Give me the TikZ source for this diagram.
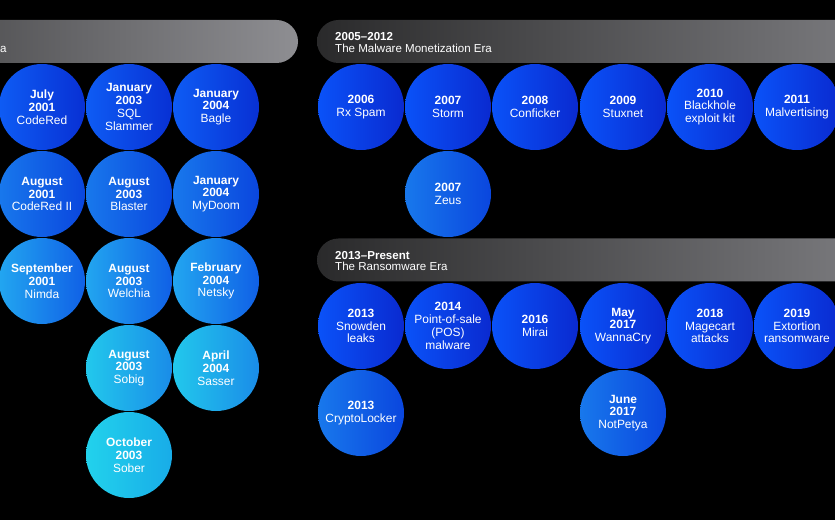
\documentclass[tikz,border=0pt]{standalone}
\usepackage{fontspec}
\setmainfont{Liberation Sans}
\usetikzlibrary{positioning}

\definecolor{bandL}{HTML}{2A2A2B}
\definecolor{bandR}{HTML}{8E8E92}
\definecolor{blueAL}{HTML}{0E5CF4}
\definecolor{blueAR}{HTML}{0830D4}
\definecolor{blueBL}{HTML}{1878EC}
\definecolor{blueBR}{HTML}{0A46DE}
\definecolor{blueCL}{HTML}{22A6F0}
\definecolor{blueCR}{HTML}{1060E6}
\definecolor{blueDL}{HTML}{22C8EC}
\definecolor{blueDR}{HTML}{1A8CE8}
\definecolor{blueEL}{HTML}{22D2EC}
\definecolor{blueER}{HTML}{18ACE8}
\definecolor{monoL}{HTML}{0A52F8}
\definecolor{monoR}{HTML}{0A2AD0}

\tikzset{font=\fontsize{12}{12.8}\selectfont}
\tikzset{
	virus/.style={circle, minimum size=86bp, inner sep=0pt, align=center, text=white},
	era/.style={rounded corners=21.5bp, minimum height=43bp, inner sep=0pt, left color=bandL, right color=bandR},
	eratext/.style={anchor=west, align=left, text=white, inner sep=0pt, font=\fontsize{11.6}{12}\selectfont},
	rowa/.style={left color=blueAL, right color=blueAR},
	rowb/.style={left color=blueBL, right color=blueBR},
	rowc/.style={left color=blueCL, right color=blueCR},
	rowd/.style={left color=blueDL, right color=blueDR},
	rowe/.style={left color=blueEL, right color=blueER},
	rowm/.style={left color=monoL, right color=monoR}
}

\begin{document}
\begin{tikzpicture}[x=1bp, y=-1bp]
	\fill[black] (0,0) rectangle (835,520);
	\clip (0,0) rectangle (835,520);

	% era banners
	\node[era, minimum width=548bp] (era1) at (24,41.5) {};
	\node[eratext, anchor=west] (era1t) at (0,49) {a};
	\node[era, minimum width=683bp] (era2) at (658.5,41.5) {};
	\node[eratext] (era2t) at (335,42.5) {\textbf{2005–2012}\\The Malware Monetization Era};
	\node[era, minimum width=683bp] (era3) at (658.5,260) {};
	\node[eratext] (era3t) at (335,261) {\textbf{2013–Present}\\The Ransomware Era};

	% worms
	\node[virus, rowa] (codered)   at (42,107)  {\textbf{July}\\\textbf{2001}\\CodeRed};
	\node[virus, rowa] (slammer)   at (129,107) {\textbf{January}\\\textbf{2003}\\SQL\\Slammer};
	\node[virus, rowa] (bagle)     at (216,107) {\textbf{January}\\\textbf{2004}\\Bagle};
	\node[virus, rowb] (coderedii) at (42,194)  {\textbf{August}\\\textbf{2001}\\CodeRed II};
	\node[virus, rowb] (blaster)   at (129,194) {\textbf{August}\\\textbf{2003}\\Blaster};
	\node[virus, rowb] (mydoom)    at (216,194) {\textbf{January}\\\textbf{2004}\\MyDoom};
	\node[virus, rowc] (nimda)     at (42,281)  {\textbf{September}\\\textbf{2001}\\Nimda};
	\node[virus, rowc] (welchia)   at (129,281) {\textbf{August}\\\textbf{2003}\\Welchia};
	\node[virus, rowc] (netsky)    at (216,281) {\textbf{February}\\\textbf{2004}\\Netsky};
	\node[virus, rowd] (sobig)     at (129,368) {\textbf{August}\\\textbf{2003}\\Sobig};
	\node[virus, rowd] (sasser)    at (216,368) {\textbf{April}\\\textbf{2004}\\Sasser};
	\node[virus, rowe] (sober)     at (129,455) {\textbf{October}\\\textbf{2003}\\Sober};

	% monetization
	\node[virus, rowm] (rxspam)    at (361,107) {\textbf{2006}\\Rx Spam};
	\node[virus, rowm] (storm)     at (448,107) {\textbf{2007}\\Storm};
	\node[virus, rowm] (conficker) at (535,107) {\textbf{2008}\\Conficker};
	\node[virus, rowm] (stuxnet)   at (623,107) {\textbf{2009}\\Stuxnet};
	\node[virus, rowm] (blackhole) at (710,107) {\textbf{2010}\\Blackhole\\exploit kit};
	\node[virus, rowm] (malvert)   at (797,107) {\textbf{2011}\\Malvertising};
	\node[virus, rowb] (zeus)      at (448,194) {\textbf{2007}\\Zeus};

	% ransomware
	\node[virus, rowm] (snowden)   at (361,326) {\textbf{2013}\\Snowden\\leaks};
	\node[virus, rowm] (pos)       at (448,326) {\textbf{2014}\\Point-of-sale\\(POS)\\malware};
	\node[virus, rowm] (mirai)     at (535,326) {\textbf{2016}\\Mirai};
	\node[virus, rowm] (wannacry)  at (623,326) {\textbf{May}\\\textbf{2017}\\WannaCry};
	\node[virus, rowm] (magecart)  at (710,326) {\textbf{2018}\\Magecart\\attacks};
	\node[virus, rowm] (extortion) at (797,326) {\textbf{2019}\\Extortion\\ransomware};
	\node[virus, rowb] (crypto)    at (361,413) {\textbf{2013}\\CryptoLocker};
	\node[virus, rowb] (notpetya)  at (623,413) {\textbf{June}\\\textbf{2017}\\NotPetya};
\end{tikzpicture}
\end{document}
